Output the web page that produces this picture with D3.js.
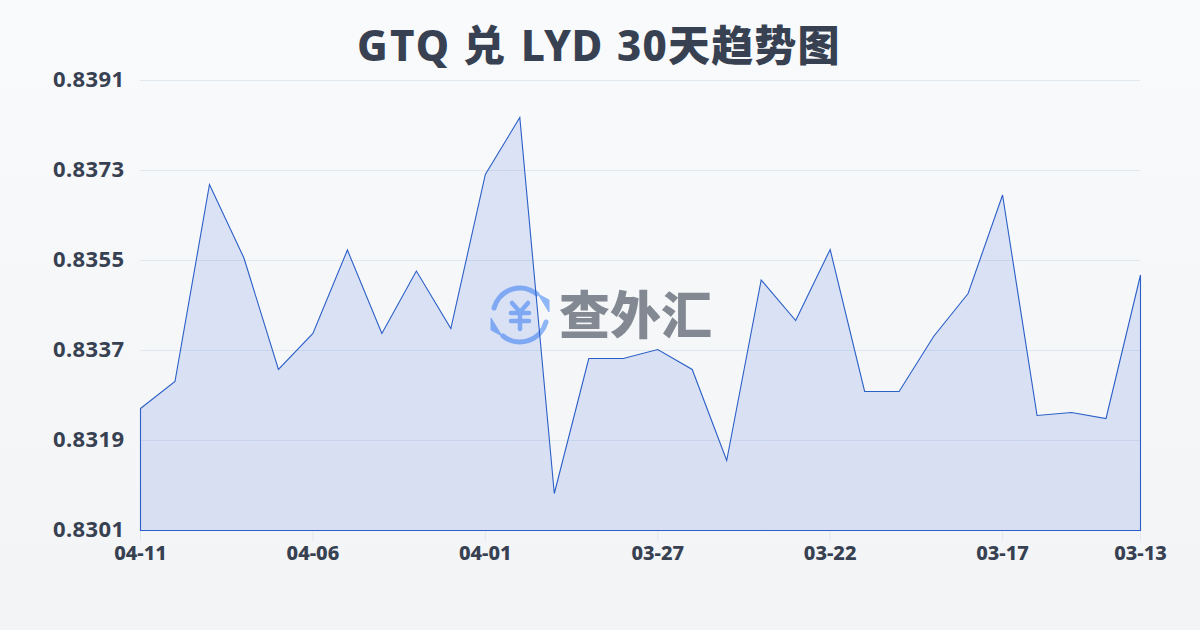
<!DOCTYPE html>
<html><head><meta charset="utf-8">
<script src="https://cdn.jsdelivr.net/npm/d3@7/dist/d3.min.js"></script>
<style>html,body{margin:0;padding:0;background:#f8fafc}svg{display:block}
text{font-family:"Noto Sans","Noto Sans CJK SC",sans-serif}</style></head>
<body><svg id="c" width="1200" height="630"></svg>
<script>
const titleParts = ["GTQ","兑","LYD","30天趋势图"];
const titleStarts = [357,463,521,617];
const titleSpacing = [2.2,0,0.4,1.2];
const watermarkText = "查外汇";
const dates = ["04-11","04-10","04-09","04-08","04-07","04-06","04-05","04-04","04-03","04-02","04-01","03-31","03-30","03-29","03-28","03-27","03-26","03-25","03-24","03-23","03-22","03-21","03-20","03-19","03-18","03-17","03-16","03-15","03-14","03-13"];
const rates = [0.83254,0.83308,0.83702,0.83555,0.83332,0.83404,0.83571,0.83404,0.83529,0.83414,0.83722,0.83836,0.83084,0.83354,0.83354,0.83372,0.83332,0.8315,0.83511,0.8343,0.83572,0.83288,0.83288,0.83398,0.83484,0.83681,0.8324,0.83246,0.83234,0.83521];
const yTicks = [0.8301,0.8319,0.8337,0.8355,0.8373,0.8391];
const xTicks = ["04-11","04-06","04-01","03-27","03-22","03-17","03-13"];

const svg = d3.select("#c");
const defs = svg.append("defs");
const bg = defs.append("linearGradient").attr("id","bg").attr("x1",0).attr("y1",0).attr("x2",0).attr("y2",1);
bg.append("stop").attr("offset",0).attr("stop-color","#f8fafc");
bg.append("stop").attr("offset",1).attr("stop-color","#f3f4f6");
svg.append("rect").attr("width",1200).attr("height",630).attr("fill","url(#bg)");

const x = d3.scalePoint().domain(dates).range([140.5,1140.5]);
const y = d3.scaleLinear().domain([0.8301,0.8391]).range([530.5,80.5]);

const title = svg.append("text").attr("y",61).attr("font-size",42).attr("font-weight",800).attr("fill","#374151");
title.selectAll("tspan").data(titleParts).join("tspan")
  .attr("x",(d,i)=>titleStarts[i]).style("letter-spacing",(d,i)=>titleSpacing[i]+"px").text(d=>d);

// grid
svg.append("g").selectAll("line").data(yTicks.slice(1)).join("line")
  .attr("x1",140).attr("x2",1140).attr("y1",d=>y(d)).attr("y2",d=>y(d))
  .attr("stroke","#e2e8f0").attr("stroke-width",1);

// watermark
const icon = svg.append("g").attr("opacity",0.55).attr("transform","translate(520,315)").attr("fill","none").attr("stroke","#3b82f6");
icon.append("path").attr("d","M-26,-7 A27,27 0 0 1 17,-21").attr("stroke-width",5).attr("stroke-linecap","round");
icon.append("path").attr("d","M26,7 A27,27 0 0 1 -17,21").attr("stroke-width",5).attr("stroke-linecap","round");
icon.append("path").attr("d","M18,-21 L29,-15 L29,-3 Z").attr("fill","#3b82f6").attr("stroke","#3b82f6").attr("stroke-width",1);
icon.append("path").attr("d","M-18,21 L-29,15 L-29,3 Z").attr("fill","#3b82f6").attr("stroke","#3b82f6").attr("stroke-width",1);
icon.append("path").attr("d","M-8,-12 L0,-3 L8,-12 M-9,-2 H9 M-9,6 H9 M0,-3 V14").attr("stroke-width",4.5).attr("stroke-linecap","round").attr("stroke-linejoin","round");
svg.append("text").attr("opacity",0.6).attr("x",559).attr("y",334).attr("font-size",51).attr("font-weight",900)
  .attr("font-family","'Noto Sans CJK SC'").attr("fill","#374151").text(watermarkText);

// area and line
const area = d3.area().x(d=>x(d.date)).y0(y(0.8301)).y1(d=>y(d.rate));
const pts = dates.map((date,i)=>({date,rate:rates[i]}));
svg.append("path").datum(pts).attr("d",area).attr("fill","#1d4ed8").attr("fill-opacity",0.13)
  .attr("stroke","#2b5fc7").attr("stroke-width",1.1);

// ticks
const tickG = svg.append("g");
tickG.selectAll("line").data(xTicks).join("line")
  .attr("x1",d=>x(d)).attr("x2",d=>x(d)).attr("y1",531).attr("y2",541)
  .attr("stroke","#e2e8f0").attr("stroke-width",1);
tickG.selectAll("text").data(xTicks).join("text")
  .attr("x",d=>x(d)).attr("y",560).attr("text-anchor","middle")
  .attr("font-size",20).attr("font-weight",800).attr("fill","#374151").text(d=>d);

svg.append("g").selectAll("text").data(yTicks).join("text")
  .attr("x",124.5).attr("y",d=>y(d)+6).attr("text-anchor","end").style("letter-spacing","0.4px")
  .attr("font-size",22).attr("font-weight",700).attr("fill","#374151").text(d=>d.toFixed(4));
</script></body></html>
